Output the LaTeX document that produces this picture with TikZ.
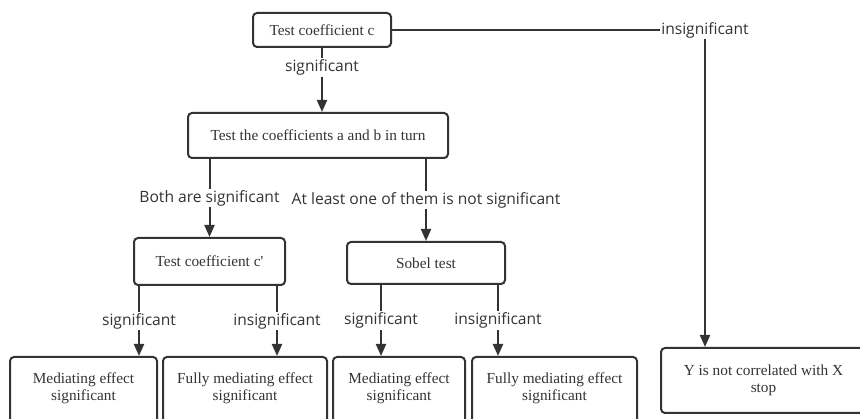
\documentclass[tikz,border=0pt]{standalone}
\usepackage{fontspec}
\setmainfont{Liberation Serif}
\newfontfamily\labelfont{Open Sans}
\usetikzlibrary{arrows.meta,positioning}
\definecolor{MEDInk}{HTML}{333333}
\tikzset{
medbox/.style={draw=MEDInk, line width=2pt, rounded corners=4pt, align=center,
  text=MEDInk, font=\fontsize{15.3}{17}\selectfont, inner sep=2pt},
medresult/.style={medbox, minimum height=73pt, text depth=14pt},
medlabel/.style={fill=white, text=MEDInk, font=\labelfont\fontsize{15.6}{17}\selectfont,
  inner sep=1.5pt},
medarrow/.style={-{Triangle[length=12pt,width=10pt]}, line width=2pt, draw=MEDInk}
}
\begin{document}
\begin{tikzpicture}[x=1pt, y=-1pt]
\useasboundingbox (0,0) rectangle (860,419);
\node[medbox, minimum width=138pt, minimum height=34pt] (c) at (322,30) {Test coefficient c};
\node[medbox, minimum width=260pt, minimum height=45pt] (ab) at (318,135.5) {Test the coefficients a and b in turn};
\node[medbox, minimum width=151pt, minimum height=47pt] (cp) at (209.5,261.5) {Test coefficient c\textquotesingle};
\node[medbox, minimum width=158pt, minimum height=42pt] (sobel) at (426,263) {Sobel test};

\node[medresult, minimum width=147pt] (med1) at (83.5,393.5) {Mediating effect\\significant};
\node[medresult, minimum width=164pt] (med2) at (245,393.5) {Fully mediating effect\\significant};
\node[medresult, minimum width=132pt] (med3) at (399,393.5) {Mediating effect\\significant};
\node[medresult, minimum width=165pt] (med4) at (554.5,393.5) {Fully mediating effect\\significant};
\node[medbox, minimum width=205pt, minimum height=65pt] (stop) at (763.5,380.5) {Y is not correlated with X\\stop};

\coordinate (turn) at (705,30);
\coordinate (cpL) at (139,0);
\coordinate (cpR) at (277,0);
\coordinate (sbL) at (381,0);
\coordinate (sbR) at (498,0);

\draw[medarrow] (c.south) -- node[medlabel, pos=0.3] {significant} (c.south |- ab.north);
\draw[medarrow] (ab.south -| cp.north) -- node[medlabel] {Both are significant} (cp.north);
\draw[medarrow] (ab.south -| sobel.north) -- node[medlabel] {At least one of them is not significant} (sobel.north);
\foreach \from/\x/\to/\txt in {cp/cpL/med1/significant, cp/cpR/med2/insignificant,
  sobel/sbL/med3/significant, sobel/sbR/med4/insignificant}
\draw[medarrow] (\from.south -| \x) -- node[medlabel] {\txt} (\to.north -| \x);
\draw[medarrow] (c.east) -- (turn) -- (stop.north -| turn);
\node[medlabel] (insig) at (turn) {insignificant};
\end{tikzpicture}
\end{document}
